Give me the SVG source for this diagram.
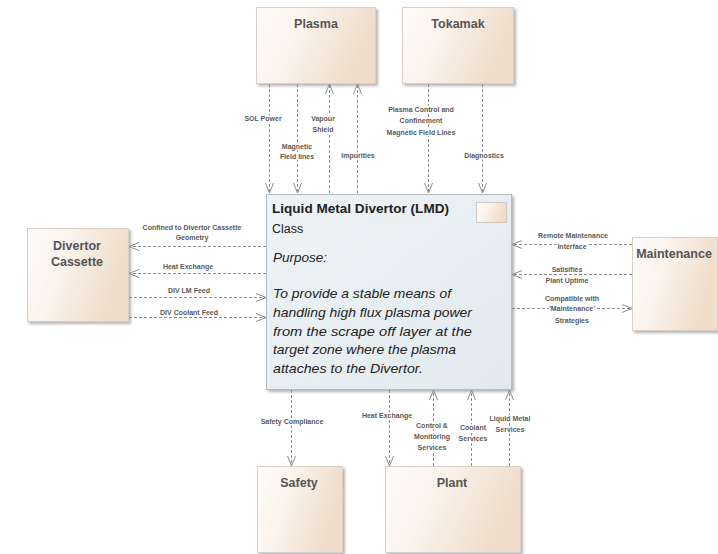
<svg xmlns="http://www.w3.org/2000/svg" width="718" height="554" viewBox="0 0 718 554">
<defs>
<linearGradient id="tan" x1="0" y1="0" x2="1" y2="0.3">
<stop offset="0" stop-color="#fefcfa"/>
<stop offset="0.4" stop-color="#fbf3ec"/>
<stop offset="1" stop-color="#efdcc9"/>
</linearGradient>
<linearGradient id="blue" x1="0" y1="0" x2="1" y2="1">
<stop offset="0" stop-color="#eef3f5"/>
<stop offset="1" stop-color="#e2eaee"/>
</linearGradient>
<filter id="sh" x="-10%" y="-10%" width="130%" height="130%">
<feGaussianBlur in="SourceAlpha" stdDeviation="1.5"/>
<feOffset dx="2" dy="2" result="b"/>
<feComponentTransfer><feFuncA type="linear" slope="0.3"/></feComponentTransfer>
<feMerge><feMergeNode/><feMergeNode in="SourceGraphic"/></feMerge>
</filter>
<marker id="arr" viewBox="0 0 10 10" refX="10" refY="5" markerWidth="10" markerHeight="10" markerUnits="userSpaceOnUse" orient="auto">
<path d="M0,1 L10,5 L0,9" fill="none" stroke="#8c8c8c" stroke-width="1"/>
</marker>
</defs>
<style>
.node{fill:url(#tan);stroke:#d8cfc6;stroke-width:1;filter:url(#sh)}
.title{font-family:"Liberation Sans",Arial,sans-serif;font-weight:bold;font-size:12.5px;fill:#555;text-anchor:middle}
.con{stroke:#8c8c8c;stroke-width:1;stroke-dasharray:3,2;fill:none;marker-end:url(#arr)}
.lbl{font-family:"Liberation Sans",Arial,sans-serif;font-size:7px;font-weight:bold;fill:#5a5a5a;text-anchor:middle;stroke:#ffffff;stroke-width:3px;stroke-linejoin:round;paint-order:stroke}
.main{font-family:"Liberation Sans",Arial,sans-serif;fill:#222}
</style>
<rect width="718" height="554" fill="#ffffff"/>

<g id="plasma">
<rect class="node" x="256.5" y="7.5" width="119" height="76"/>
<text class="title" x="316" y="28">Plasma</text>
</g>
<g id="tokamak">
<rect class="node" x="402.5" y="7.5" width="111" height="76"/>
<text class="title" x="458" y="28">Tokamak</text>
</g>
<g id="divertor-cassette">
<rect class="node" x="27.5" y="228.5" width="101" height="93"/>
<text class="title" x="77" y="250">Divertor</text>
<text class="title" x="77" y="266">Cassette</text>
</g>
<g id="maintenance">
<rect class="node" x="632.5" y="237.5" width="85" height="93"/>
<text class="title" x="674" y="258">Maintenance</text>
</g>
<g id="safety">
<rect class="node" x="257.5" y="466.5" width="85" height="86"/>
<text class="title" x="299" y="487">Safety</text>
</g>
<g id="plant">
<rect class="node" x="385.5" y="466.5" width="135" height="86"/>
<text class="title" x="452" y="487">Plant</text>
</g>

<g id="lmd">
<rect x="266.5" y="194.5" width="245" height="195" fill="url(#blue)" stroke="#b4bcc2" stroke-width="1" filter="url(#sh)"/>
<rect x="476.5" y="202.5" width="30" height="20" fill="url(#tan)" stroke="#c8c0b8" stroke-width="0.8"/>
<text class="main" x="272" y="213" font-size="12.5" font-weight="bold" textLength="177" lengthAdjust="spacingAndGlyphs">Liquid Metal Divertor (LMD)</text>
<text class="main" x="272" y="233" font-size="12.5" fill="#444">Class</text>
<g font-style="italic" font-size="13.5">
<text class="main" x="273" y="262">Purpose:</text>
<text class="main" x="273" y="298" textLength="178" lengthAdjust="spacingAndGlyphs">To provide a stable means of</text>
<text class="main" x="273" y="317" textLength="199" lengthAdjust="spacingAndGlyphs">handling high flux plasma power</text>
<text class="main" x="273" y="336" textLength="199" lengthAdjust="spacingAndGlyphs">from the scrape off layer at the</text>
<text class="main" x="273" y="354" textLength="183" lengthAdjust="spacingAndGlyphs">target zone where the plasma</text>
<text class="main" x="273" y="373" textLength="150" lengthAdjust="spacingAndGlyphs">attaches to the Divertor.</text>
</g>
</g>

<g id="connectors">
<line class="con" x1="269.5" y1="84" x2="269.5" y2="193"/>
<line class="con" x1="297.5" y1="84" x2="297.5" y2="193"/>
<line class="con" x1="329.5" y1="193" x2="329.5" y2="84"/>
<line class="con" x1="357.5" y1="193" x2="357.5" y2="84"/>
<line class="con" x1="428.5" y1="84" x2="428.5" y2="193"/>
<line class="con" x1="482.5" y1="84" x2="482.5" y2="193"/>

<line class="con" x1="266" y1="246.5" x2="129" y2="246.5"/>
<line class="con" x1="266" y1="273.5" x2="129" y2="273.5"/>
<line class="con" x1="129" y1="297.5" x2="266" y2="297.5"/>
<line class="con" x1="129" y1="317.5" x2="266" y2="317.5"/>

<line class="con" x1="632" y1="244.5" x2="512" y2="244.5"/>
<line class="con" x1="632" y1="274.5" x2="512" y2="274.5"/>
<line class="con" x1="512" y1="308.5" x2="632" y2="308.5"/>

<line class="con" x1="291.5" y1="390" x2="291.5" y2="466"/>
<line class="con" x1="389.5" y1="390" x2="389.5" y2="466"/>
<line class="con" x1="433.5" y1="466" x2="433.5" y2="390"/>
<line class="con" x1="471.5" y1="466" x2="471.5" y2="390"/>
<line class="con" x1="509.5" y1="466" x2="509.5" y2="390"/>

<text class="lbl" x="263" y="121">SOL Power</text>
<text class="lbl" x="323" y="121">Vapour</text>
<text class="lbl" x="323" y="132">Shield</text>
<text class="lbl" x="297" y="149">Magnetic</text>
<text class="lbl" x="297" y="159">Field lines</text>
<text class="lbl" x="358" y="158">Impurities</text>
<text class="lbl" x="421" y="112">Plasma Control and</text>
<text class="lbl" x="421" y="123">Confinement</text>
<text class="lbl" x="421" y="135">Magnetic Field Lines</text>
<text class="lbl" x="484" y="158">Diagnostics</text>

<text class="lbl" x="192" y="230">Confined to Divertor Cassette</text>
<text class="lbl" x="192" y="240">Geometry</text>
<text class="lbl" x="188" y="269">Heat Exchange</text>
<text class="lbl" x="189" y="293">DIV LM Feed</text>
<text class="lbl" x="189" y="315">DIV Coolant Feed</text>

<text class="lbl" x="573" y="238">Remote Maintenance</text>
<text class="lbl" x="572" y="249">Interface</text>
<text class="lbl" x="567" y="272">Satisifies</text>
<text class="lbl" x="567" y="283">Plant Uptime</text>
<text class="lbl" x="572" y="301">Compatible with</text>
<text class="lbl" x="572" y="311">'Maintenance'</text>
<text class="lbl" x="572" y="323">Strategies</text>

<text class="lbl" x="292" y="424">Safety Compliance</text>
<text class="lbl" x="387" y="418">Heat Exchange</text>
<text class="lbl" x="432" y="428">Control &amp;</text>
<text class="lbl" x="432" y="439">Monitoring</text>
<text class="lbl" x="432" y="450">Services</text>
<text class="lbl" x="473" y="430">Coolant</text>
<text class="lbl" x="473" y="441">Services</text>
<text class="lbl" x="510" y="421">Liquid Metal</text>
<text class="lbl" x="510" y="432">Services</text>
</g>
</svg>
